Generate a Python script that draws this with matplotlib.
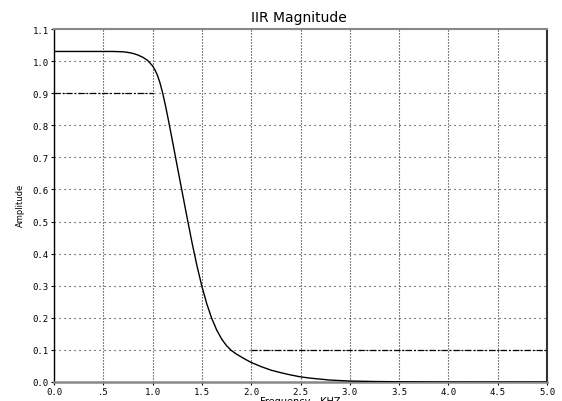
import matplotlib
matplotlib.use("Agg")
import matplotlib.pyplot as plt

# Data
freq = [0.0, 0.5, 0.6, 0.7, 0.75, 0.8, 0.85, 0.9, 0.95, 1.0, 1.025, 1.05, 1.075,
        1.1, 1.125, 1.15, 1.175, 1.2, 1.25, 1.3, 1.35, 1.4, 1.45, 1.5, 1.55,
        1.6, 1.65, 1.7, 1.75, 1.8, 1.85, 1.9, 1.95, 2.0, 2.1, 2.2, 2.3, 2.4,
        2.5, 2.6, 2.7, 2.8, 2.9, 3.0, 3.25, 3.5, 4.0, 5.0]
amp = [1.030, 1.030, 1.030, 1.029, 1.027, 1.024, 1.019, 1.012, 1.002, 0.985, 0.972,
       0.955, 0.932, 0.903, 0.869, 0.832, 0.793, 0.753, 0.672, 0.592, 0.512, 0.434,
       0.362, 0.298, 0.243, 0.198, 0.162, 0.134, 0.113, 0.098, 0.087, 0.078, 0.069,
       0.061, 0.048, 0.037, 0.029, 0.022, 0.016, 0.012, 0.009, 0.006, 0.0045,
       0.003, 0.0015, 0.0007, 0.0, 0.0]

pass_x = [0.0, 1.0]
pass_y = [0.9, 0.9]
stop_x = [2.0, 5.0]
stop_y = [0.1, 0.1]

xticks = [0.0, 0.5, 1.0, 1.5, 2.0, 2.5, 3.0, 3.5, 4.0, 4.5, 5.0]
xticklabels = ["0.0", ".5", "1.0", "1.5", "2.0", "2.5", "3.0", "3.5", "4.0", "4.5", "5.0"]
yticks = [0.0, 0.1, 0.2, 0.3, 0.4, 0.5, 0.6, 0.7, 0.8, 0.9, 1.0, 1.1]
yticklabels = ["0.0", "0.1", "0.2", "0.3", "0.4", "0.5", "0.6", "0.7", "0.8", "0.9", "1.0", "1.1"]

fig = plt.figure(figsize=(5.62, 4.02), dpi=100)
ax = fig.add_axes([54/562, 19/402, 493/562, 353/402])

ax.plot(freq, amp, color="black", lw=1.0, zorder=3)
ax.plot(pass_x, pass_y, color="black", lw=0.9, dashes=(5, 1.5, 1.5, 1.5), zorder=3)
ax.plot(stop_x, stop_y, color="black", lw=0.9, dashes=(5, 1.5, 1.5, 1.5), zorder=3)

ax.set_xlim(0, 5)
ax.set_ylim(0, 1.1)
ax.set_xticks(xticks)
ax.set_xticklabels(xticklabels)
ax.set_yticks(yticks)
ax.set_yticklabels(yticklabels)

ax.xaxis.grid(True, color="#222222", lw=0.8, linestyle=(0, (1, 1.7)))
ax.yaxis.grid(True, color="#222222", lw=0.8, linestyle=(0, (1, 3.5)))
ax.set_axisbelow(True)

for lab in ax.get_xticklabels() + ax.get_yticklabels():
    lab.set_family("DejaVu Sans Mono")
    lab.set_fontsize(6.5)
ax.tick_params(axis="both", length=2.5, width=0.8, color="black", pad=1.2)

ax.spines["left"].set_color("black")
ax.spines["left"].set_linewidth(1.0)
ax.spines["bottom"].set_color("#888888")
ax.spines["bottom"].set_linewidth(1.8)
ax.spines["top"].set_color("#888888")
ax.spines["top"].set_linewidth(1.5)
ax.spines["right"].set_color("#333333")
ax.spines["right"].set_linewidth(1.5)

fig.text(0.531, 0.955, "IIR Magnitude", ha="center", va="center",
         family="DejaVu Sans", fontsize=10)
fig.text(0.036, 0.49, "Amplitude", rotation=90, ha="center", va="center",
         family="DejaVu Sans", fontsize=6)
fig.text(0.535, 0.0135, "Frequency - KHZ", ha="center", va="top",
         family="DejaVu Sans", fontsize=7)

fig.savefig("out.png", dpi=100)
